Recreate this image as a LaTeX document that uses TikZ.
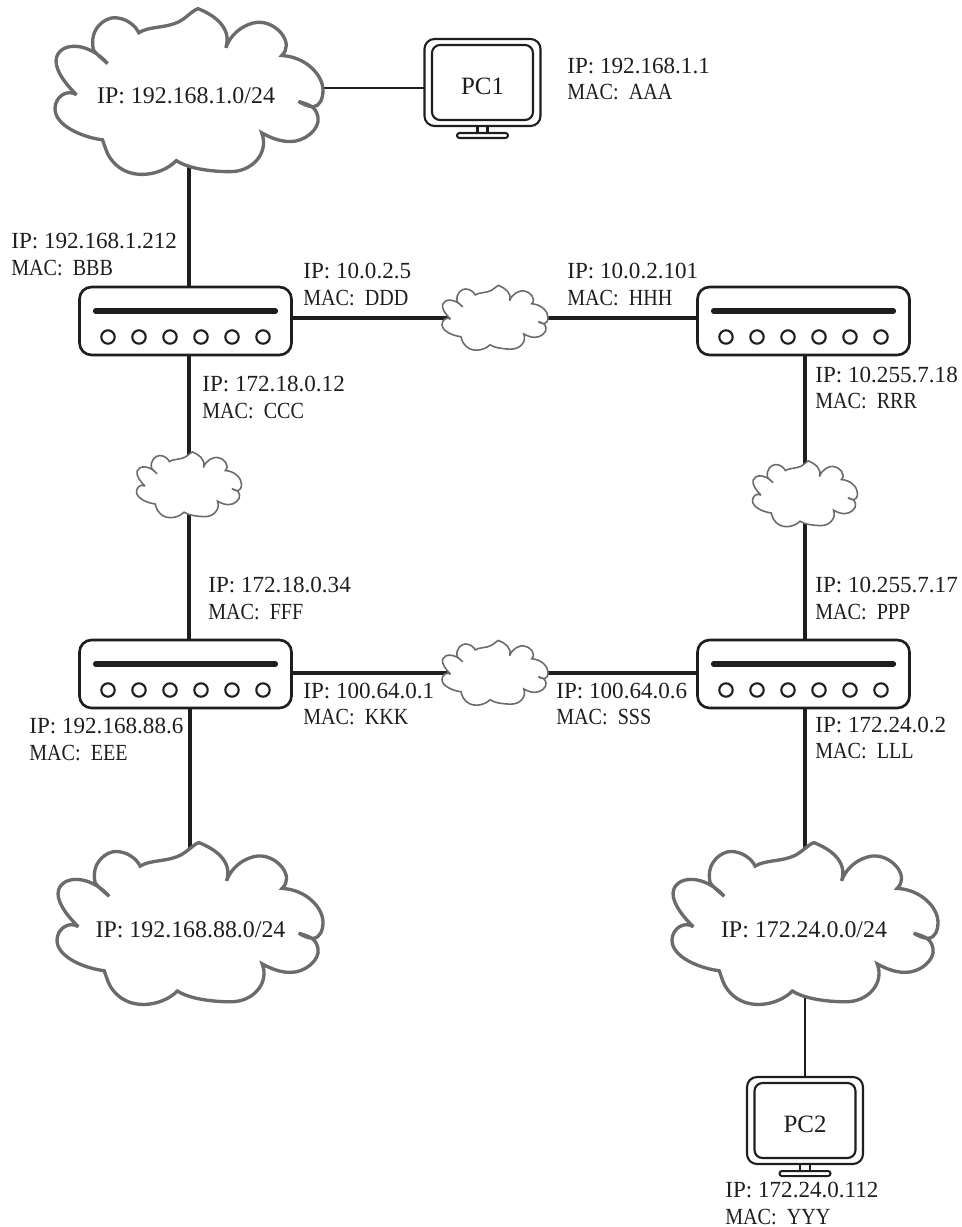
\documentclass[tikz,border=0pt]{standalone}
\usepackage{fontspec}
\setmainfont{Liberation Serif}
\newfontfamily\macfont[FakeStretch=0.87]{Liberation Serif}
\newcommand{\macline}[1]{{\macfont MAC:\ \ #1}}
\usetikzlibrary{backgrounds}
\definecolor{cloudgray}{HTML}{6B6B6B}
\definecolor{ink}{HTML}{1E1E1E}
\tikzset{
  x=0.02cm,y=-0.02cm,
  every node/.style={text=ink},
  lab/.style={anchor=west,align=left,inner sep=0pt,font=\fontsize{13.15}{15}\selectfont},
  cloudlab/.style={inner sep=0pt,font=\fontsize{13.6}{15}\selectfont},
  pclab/.style={inner sep=0pt,font=\fontsize{14.2}{17}\selectfont},
  routerbox/.style={draw=ink,fill=white,line width=1.5pt,rounded corners=0.24cm,minimum width=4.24cm,minimum height=1.36cm,inner sep=0pt},
  monbox/.style={draw=ink,fill=white,line width=1.2pt,rounded corners=0.2cm,inner sep=0pt},
  link/.style={draw=ink,line width=2.2pt},
  thinlink/.style={draw=ink,line width=1.5pt},
  cloudbox/.style={inner sep=0pt,outer sep=0pt},
  bigcloud/.style={draw=cloudgray,fill=white,line width=1.9pt,line join=miter,miter limit=3},
  smallcloud/.style={draw=cloudgray,fill=white,line width=0.9pt,line join=miter,miter limit=3},
}
% cloud outline: traced in a frame 800 wide x 505 high, centred on the origin
\newcommand{\cloudoutline}{
  (27,-249) .. controls (70,-232) and (130,-195) .. (110,-132)
  .. controls (130,-190) and (190,-212) .. (215,-208)
  .. controls (265,-205) and (315,-145) .. (277,-109)
  .. controls (350,-105) and (400,-50) .. (400,-5)
  .. controls (400,20) and (390,42) .. (372,44)
  .. controls (355,44) and (340,36) .. (327,28)
  .. controls (355,38) and (378,40) .. (385,75)
  .. controls (392,110) and (345,150) .. (300,148)
  .. controls (270,148) and (240,135) .. (217,122)
  .. controls (240,180) and (190,240) .. (120,238)
  .. controls (70,238) and (0,230) .. (-38,205)
  .. controls (-80,250) and (-190,275) .. (-240,190)
  .. controls (-248,175) and (-252,160) .. (-258,143)
  .. controls (-320,135) and (-400,100) .. (-400,50)
  .. controls (-400,15) and (-365,-10) .. (-336,8)
  .. controls (-375,-30) and (-405,-75) .. (-395,-105)
  .. controls (-380,-150) and (-300,-150) .. (-243,-85)
  .. controls (-260,-100) and (-275,-112) .. (-285,-125)
  .. controls (-300,-190) and (-250,-222) .. (-223,-222)
  .. controls (-190,-222) and (-160,-200) .. (-150,-177)
  .. controls (-120,-197) and (-70,-190) .. (-30,-210)
  .. controls (-10,-220) and (15,-247) .. (27,-249) -- cycle}
% \cloudat{name}{cx}{cy}{width}{height}{style}
\newcommand{\cloudat}[6]{
  \begin{scope}[shift={(#2,#3)},xscale=#4/800,yscale=#5/505]
    \path[#6] \cloudoutline;
  \end{scope}
  \node[cloudbox,minimum width=#4*0.02cm,minimum height=#5*0.02cm] (#1) at (#2,#3) {};
}
\newcommand{\routerat}[3]{
  \node[routerbox] (#1) at (#2,#3) {};
  \begin{scope}[shift={(#2,#3)}]
    \draw[draw=ink,line width=2.9pt,line cap=round] (-90,-10) -- (90,-10);
    \foreach \k in {-77.5,-46.5,-15.5,15.5,46.5,77.5}
      \draw[draw=ink,line width=1.2pt] (\k,16) circle (6.7);
  \end{scope}
}
\newcommand{\monitorat}[4]{
  \begin{scope}[shift={(#2,#3)}]
    \draw[draw=ink,line width=1.15pt] (-5,43) rectangle (5,51);
    \draw[draw=ink,line width=1.15pt,fill=white,rounded corners=0.05cm] (-25.5,50.5) rectangle (25.5,55.5);
  \end{scope}
  \node[monbox,minimum width=2.32cm,minimum height=1.74cm] (#1) at (#2,#3) {};
  \node[monbox,minimum width=2.02cm,minimum height=1.5cm,rounded corners=0.16cm] (#1in) at (#2,#3) {};
  \node[pclab] (#1txt) at ([yshift=-0.07cm]#1.center) {#4};
}
\begin{document}
\begin{tikzpicture}
\useasboundingbox (0,0) rectangle (961,1227);

% clouds
\cloudat{cA}{189}{92}{268}{169}{bigcloud}
\cloudat{cB}{190}{924}{266}{165}{bigcloud}
\cloudat{cC}{805}{924}{266}{165}{bigcloud}
\cloudat{cT}{495}{318}{106}{66}{smallcloud}
\cloudat{cL}{189}{485}{105}{67}{smallcloud}
\cloudat{cR}{805}{494}{105}{67}{smallcloud}
\cloudat{cM}{495}{673}{106}{66}{smallcloud}

% routers
\routerat{R1}{185.5}{321}
\routerat{R2}{803.5}{321}
\routerat{R3}{185.5}{674}
\routerat{R4}{803.5}{674}

% monitors
\monitorat{PC1}{482.5}{82.5}{PC1}
\monitorat{PC2}{805}{1120.5}{PC2}
\coordinate (pcport) at (424,88);

% connectors
\begin{scope}[on background layer]
  \draw[thinlink] (pcport) -- (cA.center |- pcport);
  \draw[link] (cA.center) -- (cA.center |- R1.center);
  \draw[link] (cT.center) -- (cT.center -| R1.center);
  \draw[link] (cT.center) -- (cT.center -| R2.center);
  \draw[link] (cL.center) -- (cL.center |- R1.center);
  \draw[link] (cL.center) -- (cL.center |- R3.center);
  \draw[link] (cR.center) -- (cR.center |- R2.center);
  \draw[link] (cR.center) -- (cR.center |- R4.center);
  \draw[link] (cM.center) -- (cM.center -| R3.center);
  \draw[link] (cM.center) -- (cM.center -| R4.center);
  \draw[link] (cB.center) -- (cB.center |- R3.center);
  \draw[link] (cC.center) -- (cC.center |- R4.center);
  \draw[thinlink] (cC.center) -- (PC2.center);
\end{scope}

% cloud labels
\node[cloudlab] (tA) at (186,96) {IP: 192.168.1.0/24};
\node[cloudlab] (tB) at (190.5,930) {IP: 192.168.88.0/24};
\node[cloudlab] (tC) at (804,930) {IP: 172.24.0.0/24};

% interface labels
\node[lab] (l1) at (567,79) {IP: 192.168.1.1\\\macline{AAA}};
\node[lab] (l2) at (11,254.5) {IP: 192.168.1.212\\\macline{BBB}};
\node[lab] (l3) at (303,284.5) {IP: 10.0.2.5\\\macline{DDD}};
\node[lab] (l4) at (567,284.5) {IP: 10.0.2.101\\\macline{HHH}};
\node[lab] (l5) at (202,397.5) {IP: 172.18.0.12\\\macline{CCC}};
\node[lab] (l6) at (815,388) {IP: 10.255.7.18\\\macline{RRR}};
\node[lab] (l7) at (208,598.5) {IP: 172.18.0.34\\\macline{FFF}};
\node[lab] (l8) at (815,598.5) {IP: 10.255.7.17\\\macline{PPP}};
\node[lab] (l9) at (29,739.5) {IP: 192.168.88.6\\\macline{EEE}};
\node[lab] (l10) at (303,704) {IP: 100.64.0.1\\\macline{KKK}};
\node[lab] (l11) at (556,704) {IP: 100.64.0.6\\\macline{SSS}};
\node[lab] (l12) at (815,738) {IP: 172.24.0.2\\\macline{LLL}};
\node[lab] (l13) at (725,1203.5) {IP: 172.24.0.112\\\macline{YYY}};
\end{tikzpicture}
\end{document}
